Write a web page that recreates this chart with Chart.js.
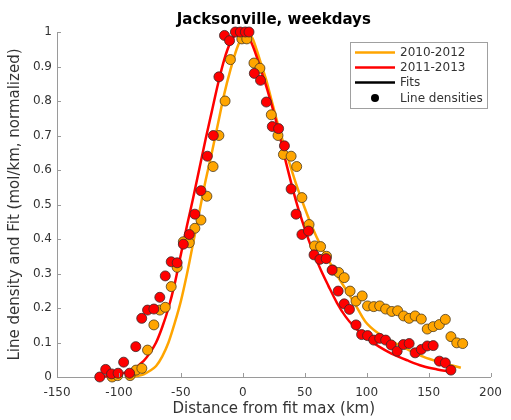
<!DOCTYPE html>
<html>
<head>
<meta charset="utf-8">
<script src="https://cdn.jsdelivr.net/npm/chart.js@4/dist/chart.umd.min.js"></script>
<style>
  html, body { margin: 0; padding: 0; background: #fff; }
  #wrap { width: 511px; height: 420px; }
</style>
</head>
<body>
<div id="wrap"><canvas id="c" width="511" height="420"></canvas></div>
<script>
// Line densities, 2010-2012 (distance from fit max in km, normalized density)
const orangeKm = [-105.5, -101, -91, -86.2, -81.5, -76.9, -71.8, -67, -62.6, -57.8, -53, -48, -43.2, -38.7, -33.8, -29, -24, -19.3, -14.3, -10, -0.8, 3.2, 9, 13.8, 23, 28.4, 32.8, 39, 43.5, 47.7, 53.5, 58, 62.8, 67.6, 72.6, 77.4, 81.9, 86.6, 91.4, 96.4, 100.7, 105.7, 110.5, 115.3, 120.3, 125, 129.8, 134.3, 139.1, 144.1, 148.9, 153.7, 158.7, 163.5, 168, 172.7, 177.5];
const orangeVal = [0.0, 0.004, 0.004, 0.02, 0.025, 0.078, 0.151, 0.194, 0.202, 0.262, 0.318, 0.392, 0.389, 0.431, 0.455, 0.524, 0.61, 0.70, 0.80, 0.92, 0.98, 0.98, 0.91, 0.895, 0.76, 0.70, 0.645, 0.64, 0.61, 0.52, 0.442, 0.38, 0.378, 0.350, 0.31, 0.303, 0.288, 0.249, 0.22, 0.235, 0.206, 0.204, 0.206, 0.197, 0.19, 0.192, 0.177, 0.17, 0.177, 0.168, 0.139, 0.146, 0.152, 0.167, 0.117, 0.099, 0.097];

// Line densities, 2011-2013
const redKm = [-115.5, -110.7, -106, -100.7, -96.2, -91.4, -86.4, -81.6, -76.9, -71.8, -67, -62.6, -57.8, -53, -48, -43.2, -38.7, -33.8, -28.6, -23.8, -19.3, -14.8, -10.7, -6, -2, 2, 5, 9.3, 14.3, 19, 23.8, 28.9, 33.6, 39, 43, 47.7, 53, 57.5, 62.2, 67.3, 72.1, 77, 81.9, 86.1, 91.4, 95.9, 100.7, 105.7, 110.5, 115.3, 119.8, 124.6, 129.6, 134.3, 139.1, 144.1, 148.9, 153.7, 158.7, 163.5, 168];
const redVal = [0.0, 0.022, 0.009, 0.011, 0.043, 0.011, 0.088, 0.17, 0.194, 0.197, 0.231, 0.293, 0.334, 0.331, 0.385, 0.413, 0.472, 0.54, 0.64, 0.70, 0.87, 0.99, 0.975, 1.0, 1.0, 1.0, 1.0, 0.88, 0.86, 0.797, 0.726, 0.72, 0.67, 0.545, 0.472, 0.413, 0.423, 0.354, 0.341, 0.343, 0.31, 0.249, 0.212, 0.196, 0.151, 0.123, 0.12, 0.107, 0.112, 0.107, 0.093, 0.075, 0.094, 0.097, 0.07, 0.08, 0.09, 0.091, 0.046, 0.041, 0.02];

// Fitted profiles
const orangeFitKm  = [-90, -85, -80, -75, -70, -65, -60, -55, -50, -45, -40, -35, -30, -25, -20, -15, -10, -5, 0, 4, 8, 11, 15, 19, 23, 27, 31, 35, 39, 43, 50, 56, 63, 69, 76, 83, 90, 99, 110, 120, 133, 145, 160, 176];
const orangeFitVal = [0.0, 0.003, 0.008, 0.018, 0.032, 0.06, 0.10, 0.156, 0.22, 0.30, 0.39, 0.48, 0.57, 0.65, 0.735, 0.82, 0.89, 0.95, 0.99, 1.0, 0.98, 0.95, 0.905, 0.86, 0.805, 0.75, 0.70, 0.65, 0.605, 0.56, 0.49, 0.435, 0.38, 0.34, 0.295, 0.255, 0.215, 0.16, 0.125, 0.104, 0.08, 0.06, 0.042, 0.027];

const redFitKm  = [-115, -110, -100, -90, -80, -75, -70, -65, -60, -55, -50, -45, -40, -35, -30, -25, -20, -15, -10, -5, -1, 4, 8, 12, 16, 20, 27, 35, 43, 50, 56, 63, 69, 76, 83, 90, 99, 110, 120, 133, 145, 157, 168];
const redFitVal = [0.0, 0.002, 0.008, 0.02, 0.047, 0.07, 0.10, 0.145, 0.20, 0.27, 0.355, 0.44, 0.52, 0.605, 0.69, 0.77, 0.85, 0.92, 0.97, 0.995, 1.0, 0.99, 0.96, 0.92, 0.875, 0.83, 0.74, 0.62, 0.51, 0.43, 0.37, 0.31, 0.265, 0.215, 0.175, 0.145, 0.116, 0.088, 0.068, 0.048, 0.032, 0.022, 0.015];

const xTicks = [-150, -100, -50, 0, 50, 100, 150, 200];
const yTicks = [0, 0.1, 0.2, 0.3, 0.4, 0.5, 0.6, 0.7, 0.8, 0.9, 1];
const legendItems = ['2010-2012', '2011-2013', 'Fits', 'Line densities'];
const titleText = 'Jacksonville, weekdays';

const ORANGE = '#FFA500';
const RED = '#FF0000';
const AXIS = '#9a9a9a';
const TEXT = '#333333';
const FONT = 'DejaVu Sans, sans-serif';

const pts = (xs, ys) => xs.map((x, i) => ({ x: x, y: ys[i] }));

// Title centred over the axes, inward tick marks, and the boxed legend
const decorations = {
  id: 'decorations',
  afterDraw(chart) {
    const ctx = chart.ctx;
    const xs = chart.scales.x, ys = chart.scales.y;
    const area = chart.chartArea;
    ctx.save();

    ctx.fillStyle = '#000';
    ctx.font = 'bold 15px ' + FONT;
    ctx.textAlign = 'center';
    ctx.textBaseline = 'middle';
    ctx.fillText(titleText, (area.left + area.right) / 2, 20);

    ctx.strokeStyle = AXIS;
    ctx.lineWidth = 1;
    ctx.beginPath();
    xTicks.forEach(v => {
      const px = Math.round(xs.getPixelForValue(v)) + 0.5;
      ctx.moveTo(px, area.bottom);
      ctx.lineTo(px, area.bottom - 4);
    });
    yTicks.forEach(v => {
      const py = Math.round(ys.getPixelForValue(v)) + 0.5;
      ctx.moveTo(area.left, py);
      ctx.lineTo(area.left + 4, py);
    });
    ctx.stroke();

    // legend box
    const bx = 350.5, by = 42.5, bw = 137, bh = 66;
    ctx.fillStyle = '#fff';
    ctx.fillRect(bx, by, bw, bh);
    ctx.strokeStyle = '#a0a0a0';
    ctx.strokeRect(bx, by, bw, bh);
    const rowY = [52.5, 67.5, 82.5, 98];
    const colors = [ORANGE, RED, '#000'];
    ctx.font = '12px ' + FONT;
    ctx.textBaseline = 'middle';
    ctx.textAlign = 'left';
    legendItems.forEach((label, i) => {
      const y = rowY[i];
      if (i < 3) {
        ctx.strokeStyle = colors[i];
        ctx.lineWidth = 2.5;
        ctx.beginPath();
        ctx.moveTo(355, y);
        ctx.lineTo(395, y);
        ctx.stroke();
      } else {
        ctx.fillStyle = '#000';
        ctx.beginPath();
        ctx.arc(375, y, 4, 0, Math.PI * 2);
        ctx.fill();
      }
      ctx.fillStyle = TEXT;
      ctx.fillText(label, 400, y + 0.5);
    });
    ctx.restore();
  }
};

new Chart(document.getElementById('c'), {
  type: 'scatter',
  data: {
    datasets: [
      { label: '2011-2013 densities', data: pts(redKm, redVal), order: 0, clip: false,
        pointRadius: 5, pointBackgroundColor: RED, pointBorderColor: '#3a2a2a', pointBorderWidth: 0.8, showLine: false },
      { label: '2010-2012 densities', data: pts(orangeKm, orangeVal), order: 1, clip: false,
        pointRadius: 5, pointBackgroundColor: ORANGE, pointBorderColor: '#4a3a20', pointBorderWidth: 0.8, showLine: false },
      { label: '2011-2013', data: pts(redFitKm, redFitVal), order: 2, showLine: true, clip: false,
        borderColor: RED, borderWidth: 2.5, pointRadius: 0, cubicInterpolationMode: 'monotone', fill: false },
      { label: '2010-2012', data: pts(orangeFitKm, orangeFitVal), order: 3, showLine: true, clip: false,
        borderColor: ORANGE, borderWidth: 2.5, pointRadius: 0, cubicInterpolationMode: 'monotone', fill: false }
    ]
  },
  options: {
    responsive: false,
    animation: false,
    devicePixelRatio: 1,
    layout: { padding: { left: 0, right: 13, top: 32, bottom: 0 } },
    plugins: {
      legend: { display: false },
      tooltip: { enabled: false },
      title: { display: false }
    },
    scales: {
      x: {
        type: 'linear', min: -150, max: 200,
        afterBuildTicks: s => { s.ticks = xTicks.map(v => ({ value: v })); },
        afterFit: s => { s.height = 43; },
        grid: { display: true, drawOnChartArea: false, drawTicks: false },
        border: { display: true, color: AXIS, width: 1 },
        ticks: { color: TEXT, font: { family: FONT, size: 12 }, padding: 9, maxRotation: 0, autoSkip: false },
        title: { display: true, text: 'Distance from fit max (km)', color: TEXT,
                 font: { family: FONT, size: 15 }, padding: { top: 0, bottom: 2 } }
      },
      y: {
        type: 'linear', min: 0, max: 1,
        afterBuildTicks: s => { s.ticks = yTicks.map(v => ({ value: v })); },
        afterFit: s => { s.width = 57; },
        grid: { display: true, drawOnChartArea: false, drawTicks: false },
        border: { display: true, color: AXIS, width: 1 },
        ticks: { color: TEXT, font: { family: FONT, size: 12 }, padding: 5, autoSkip: false,
                 callback: v => String(Number(v.toFixed(1))) },
        title: { display: true, text: 'Line density and Fit (mol/km, normalized)', color: TEXT,
                 font: { family: FONT, size: 15 }, padding: { top: 6, bottom: 0 } }
      }
    }
  },
  plugins: [decorations]
});
</script>
</body>
</html>
